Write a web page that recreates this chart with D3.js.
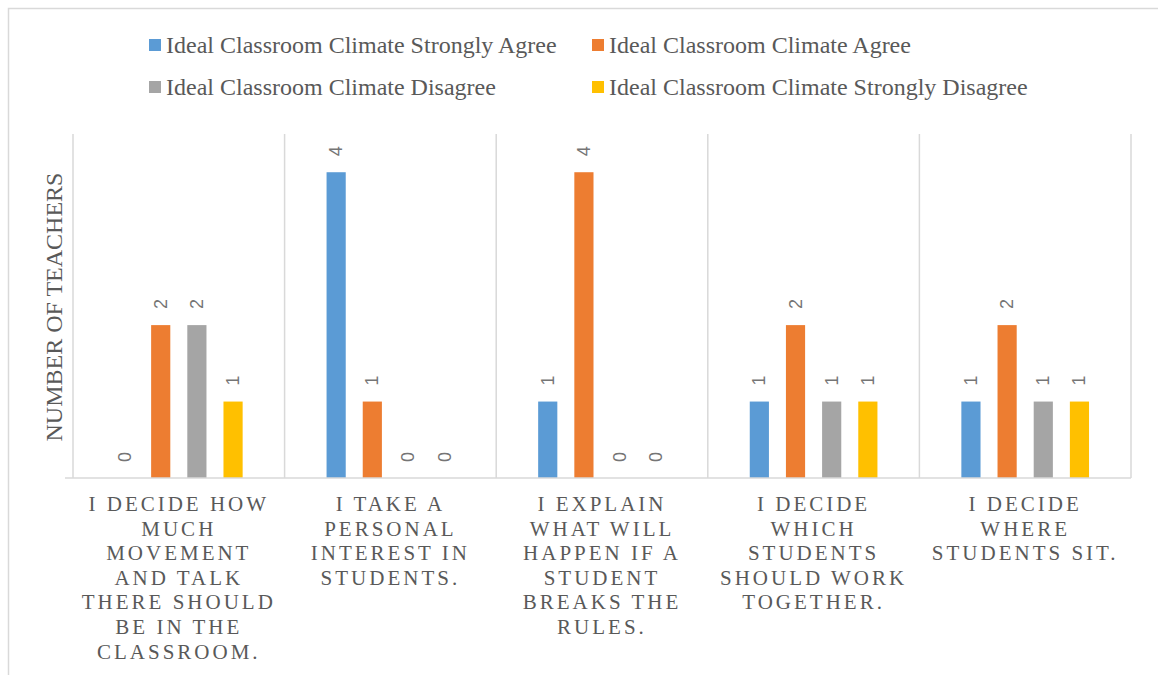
<!DOCTYPE html>
<html>
<head>
<meta charset="utf-8">
<script src="https://cdn.jsdelivr.net/npm/d3@7"></script>
<style>
  html, body { margin: 0; padding: 0; background: #fff; }
  svg { display: block; }
</style>
</head>
<body>
<svg id="chart" width="1158" height="675"></svg>
<script>
// Survey items (x-axis categories), with the line breaks used on the axis
const categories = [
  "I DECIDE HOW MUCH MOVEMENT AND TALK THERE SHOULD BE IN THE CLASSROOM.",
  "I TAKE A PERSONAL INTEREST IN STUDENTS.",
  "I EXPLAIN WHAT WILL HAPPEN IF A STUDENT BREAKS THE RULES.",
  "I DECIDE WHICH STUDENTS SHOULD WORK TOGETHER.",
  "I DECIDE WHERE STUDENTS SIT."
];
const categoryLines = [
  ["I DECIDE HOW", "MUCH", "MOVEMENT", "AND TALK", "THERE SHOULD", "BE IN THE", "CLASSROOM."],
  ["I TAKE A", "PERSONAL", "INTEREST IN", "STUDENTS."],
  ["I EXPLAIN", "WHAT WILL", "HAPPEN IF A", "STUDENT", "BREAKS THE", "RULES."],
  ["I DECIDE", "WHICH", "STUDENTS", "SHOULD WORK", "TOGETHER."],
  ["I DECIDE", "WHERE", "STUDENTS SIT."]
];

// Response series
const seriesNames = [
  "Ideal Classroom Climate Strongly Agree",
  "Ideal Classroom Climate Agree",
  "Ideal Classroom Climate Disagree",
  "Ideal Classroom Climate Strongly Disagree"
];
const stronglyAgree    = [0, 4, 1, 1, 1];
const agree            = [2, 1, 4, 2, 2];
const disagree         = [2, 0, 0, 1, 1];
const stronglyDisagree = [1, 0, 0, 1, 1];
const seriesColors = ["#5B9BD5", "#ED7D31", "#A5A5A5", "#FFC000"];

const yAxisTitle = "NUMBER OF TEACHERS";

const seriesValues = [stronglyAgree, agree, disagree, stronglyDisagree];
const rows = categories.map((c, i) => ({
  category: c,
  values: seriesNames.map((s, j) => ({ series: s, value: seriesValues[j][i], color: seriesColors[j] }))
}));

const svg = d3.select("#chart");
const serif = '"Liberation Serif"';
const sans = '"Liberation Sans"';
const textColor = "#595959";
const gridColor = "#D9D9D9";

// chart border (open towards the right and bottom edges)
svg.append("rect")
  .attr("x", 8.5).attr("y", 8.5)
  .attr("width", 1200).attr("height", 700)
  .attr("fill", "none").attr("stroke", gridColor).attr("stroke-width", 1.5);

const plot = { left: 73, right: 1131, top: 134, bottom: 478 };

const x0 = d3.scaleBand().domain(categories).range([plot.left, plot.right]).padding(0);
const x1 = d3.scaleBand().domain(seriesNames).range([0, x0.bandwidth()])
  .paddingInner(0.47).paddingOuter(1.16);
const y = d3.scaleLinear().domain([0, 4.5]).range([plot.bottom, plot.top]);

// vertical separators between categories
const bounds = categories.map(c => x0(c)).concat([plot.right]);
svg.append("g").selectAll("line").data(bounds).join("line")
  .attr("x1", d => d).attr("x2", d => d)
  .attr("y1", plot.top).attr("y2", plot.bottom)
  .attr("stroke", gridColor).attr("stroke-width", 1.5);

// bars
const groups = svg.append("g").selectAll("g").data(rows).join("g")
  .attr("transform", d => `translate(${x0(d.category)},0)`);

groups.selectAll("rect").data(d => d.values).join("rect")
  .attr("x", d => x1(d.series))
  .attr("y", d => y(d.value))
  .attr("width", x1.bandwidth())
  .attr("height", d => y(0) - y(d.value))
  .attr("fill", d => d.color);

// rotated value labels
groups.selectAll("text").data(d => d.values).join("text")
  .attr("transform", d => `translate(${x1(d.series) + x1.bandwidth() / 2},${y(d.value) - 16}) rotate(-90)`)
  .attr("text-anchor", "start")
  .attr("dominant-baseline", "central")
  .style("font-family", sans)
  .style("font-size", "18px")
  .attr("fill", "#757575")
  .text(d => d.value);

// x axis baseline
const xAxis = d3.axisBottom(x0).tickSize(0).tickFormat("");
const xg = svg.append("g").attr("transform", `translate(0,${plot.bottom})`).call(xAxis);
xg.select(".domain").attr("stroke", gridColor).attr("stroke-width", 1.5)
  .attr("d", `M${plot.left - 8},0H${plot.right}`);

// multi-line category labels
categories.forEach((c, i) => {
  const cx = x0(c) + x0.bandwidth() / 2;
  const t = svg.append("text")
    .attr("text-anchor", "middle")
    .style("font-family", serif)
    .style("font-size", "21px")
    .style("letter-spacing", "3px")
    .attr("fill", textColor);
  categoryLines[i].forEach((ln, k) => {
    t.append("tspan")
      .attr("x", cx)
      .attr("y", 511 + k * 24.6)
      .text(ln);
  });
});

// y axis title
svg.append("text")
  .attr("transform", `translate(62,${(plot.top + plot.bottom) / 2 + 1}) rotate(-90)`)
  .attr("text-anchor", "middle")
  .style("font-family", serif)
  .style("font-size", "24px")
  .attr("fill", textColor)
  .text(yAxisTitle);

// legend (two columns, two rows)
const legendPos = [[149, 53], [592, 53], [149, 95], [592, 95]];
const legend = svg.append("g").selectAll("g").data(seriesNames).join("g")
  .attr("transform", (d, i) => `translate(${legendPos[i][0]},${legendPos[i][1]})`);
legend.append("rect")
  .attr("x", 0).attr("y", -14).attr("width", 12).attr("height", 12)
  .attr("fill", (d, i) => seriesColors[i]);
legend.append("text")
  .attr("x", 17).attr("y", 0)
  .style("font-family", serif)
  .style("font-size", "24px")
  .attr("fill", textColor)
  .text(d => d);
</script>
</body>
</html>
